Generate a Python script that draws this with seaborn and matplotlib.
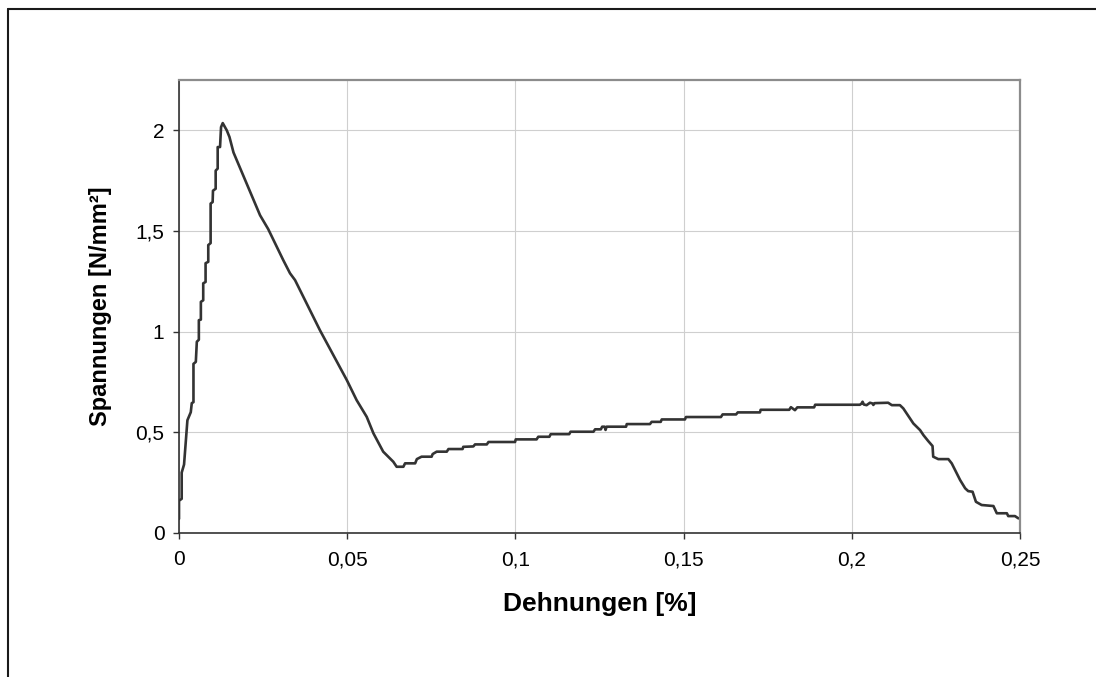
import matplotlib
matplotlib.use("Agg")
import matplotlib.pyplot as plt
from matplotlib.lines import Line2D
import seaborn as sns
import pandas as pd

# ---- data ----
strain = [0.0, 0.0, 0.0008, 0.0008, 0.0015, 0.0025, 0.0035, 0.0038, 0.0043, 0.0043,
          0.005, 0.0053, 0.0059, 0.0059, 0.0065, 0.0065, 0.0072, 0.0072, 0.0079, 0.0079,
          0.0087, 0.0087, 0.0094, 0.0094, 0.0100, 0.0101, 0.0109, 0.0109, 0.0115, 0.0115,
          0.0122, 0.0125, 0.0130, 0.0142, 0.0150, 0.0162, 0.0241, 0.0265, 0.0310, 0.0330,
          0.0345, 0.0419, 0.0499, 0.0528, 0.0558, 0.0578, 0.0607, 0.0637, 0.0647, 0.0667,
          0.0672, 0.0702, 0.0707, 0.0721, 0.0751, 0.0754, 0.0766, 0.0796, 0.0801, 0.0843,
          0.0845, 0.0875, 0.0880, 0.0915, 0.0920, 0.0999, 0.1001, 0.1063, 0.1068, 0.1101,
          0.1105, 0.1160, 0.1164, 0.1232, 0.1237, 0.1254, 0.1258, 0.1265, 0.1268, 0.1271,
          0.1329, 0.1331, 0.1400, 0.1405, 0.1432, 0.1435, 0.1504, 0.1507, 0.1611, 0.1616,
          0.1656, 0.1661, 0.1727, 0.1729, 0.1814, 0.1819, 0.1831, 0.1838, 0.1888, 0.1891,
          0.2024, 0.2029, 0.2032, 0.2036, 0.2044, 0.2054, 0.2062, 0.2064, 0.2068, 0.2108,
          0.2119, 0.2143, 0.2153, 0.2163, 0.2173, 0.2183, 0.2203, 0.2213, 0.2227, 0.2240,
          0.2242, 0.2257, 0.2287, 0.2297, 0.2307, 0.2322, 0.2337, 0.2346, 0.2359, 0.2369,
          0.2386, 0.2421, 0.2431, 0.2461, 0.2465, 0.2485, 0.2495, 0.2500]
stress = [0.07, 0.16, 0.17, 0.30, 0.34, 0.56, 0.60, 0.645, 0.65, 0.84,
          0.85, 0.95, 0.96, 1.057, 1.06, 1.148, 1.156, 1.24, 1.247, 1.34,
          1.347, 1.43, 1.44, 1.636, 1.644, 1.70, 1.71, 1.80, 1.81, 1.917,
          1.917, 2.016, 2.036, 2.00, 1.967, 1.89, 1.578, 1.51, 1.355, 1.29,
          1.256, 1.007, 0.759, 0.66, 0.577, 0.495, 0.404, 0.354, 0.329, 0.329,
          0.346, 0.346, 0.367, 0.379, 0.379, 0.392, 0.404, 0.404, 0.417, 0.417,
          0.428, 0.430, 0.440, 0.440, 0.452, 0.452, 0.465, 0.465, 0.478, 0.478,
          0.491, 0.491, 0.503, 0.503, 0.515, 0.515, 0.528, 0.528, 0.512, 0.528,
          0.528, 0.541, 0.541, 0.552, 0.552, 0.564, 0.564, 0.576, 0.576, 0.589,
          0.589, 0.599, 0.599, 0.612, 0.612, 0.625, 0.610, 0.624, 0.624, 0.637,
          0.637, 0.643, 0.652, 0.638, 0.635, 0.647, 0.643, 0.636, 0.645, 0.647,
          0.635, 0.635, 0.619, 0.594, 0.569, 0.544, 0.511, 0.486, 0.457, 0.432,
          0.379, 0.367, 0.367, 0.346, 0.313, 0.263, 0.222, 0.208, 0.205, 0.155,
          0.139, 0.134, 0.098, 0.098, 0.084, 0.084, 0.073, 0.073]

x_ticks = [0.0, 0.05, 0.10, 0.15, 0.20, 0.25]
x_tick_labels = ["0", "0,05", "0,1", "0,15", "0,2", "0,25"]
y_ticks = [0.0, 0.5, 1.0, 1.5, 2.0]
y_tick_labels = ["0", "0,5", "1", "1,5", "2"]
x_label = "Dehnungen [%]"
y_label = "Spannungen [N/mm²]"

df = pd.DataFrame({"strain": strain, "stress": stress})

sns.set_theme(style="white")
plt.rcParams["font.family"] = ["Liberation Sans", "DejaVu Sans"]

W, H = 1096, 677
fig = plt.figure(figsize=(W / 100, H / 100), dpi=100)
fig.patch.set_facecolor("white")
L, R, T, B = 179, 1020, 80, 533
ax = fig.add_axes([L / W, 1 - B / H, (R - L) / W, (B - T) / H])

sns.lineplot(data=df, x="strain", y="stress", ax=ax, sort=False, estimator=None,
             color="#333333", linewidth=1.9)

ax.set_xlim(0, 0.25)
ax.set_ylim(0, 2.25)
ax.set_xticks(x_ticks)
ax.set_xticklabels(x_tick_labels)
ax.set_yticks(y_ticks)
ax.set_yticklabels(y_tick_labels)
ax.grid(True, color="#cfcfcf", linewidth=0.8)
ax.set_axisbelow(True)

for side in ["top", "right"]:
    ax.spines[side].set_color("#8c8c8c")
    ax.spines[side].set_linewidth(1.6)
for side in ["left", "bottom"]:
    ax.spines[side].set_color("#333333")
    ax.spines[side].set_linewidth(1.2)

ax.tick_params(axis="both", which="major", direction="out", length=4.5, width=1.0,
               color="#333333", labelsize=15, labelcolor="black", pad=6,
               left=True, bottom=True)
ax.tick_params(axis="x", pad=8)

ax.set_xlabel(x_label, fontsize=19, fontweight="bold", color="black")
ax.set_ylabel(y_label, fontsize=17, fontweight="bold", color="black")
ax.xaxis.set_label_coords(0.5, -(592 - B) / (B - T))
ax.xaxis.label.set_va("top")
ax.yaxis.set_label_coords((100 - L) / (R - L), 0.5)
ax.yaxis.label.set_va("center")

# outer frame (clipped at right and bottom)
fig.add_artist(Line2D([8 / W, 1.0], [1 - 8.5 / H, 1 - 8.5 / H], color="#1a1a1a",
                      linewidth=1.5, transform=fig.transFigure))
fig.add_artist(Line2D([8 / W, 8 / W], [1 - 8.5 / H, 0.0], color="#1a1a1a",
                      linewidth=1.5, transform=fig.transFigure))

fig.savefig("out.png", dpi=100, facecolor="white")
